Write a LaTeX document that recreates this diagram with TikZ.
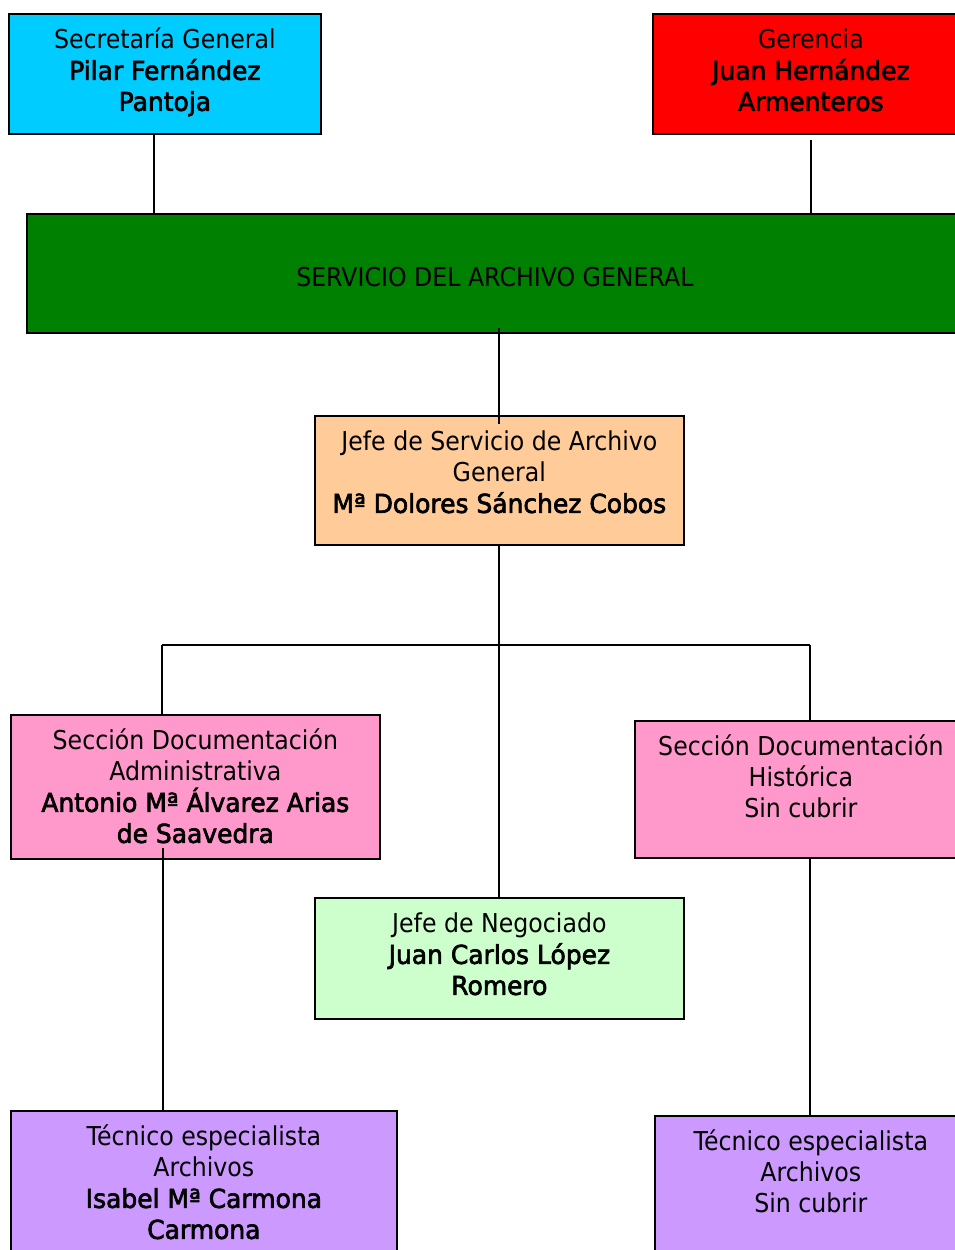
\documentclass[tikz,border=0pt]{standalone}
\usepackage{fontspec}
\setmainfont{DejaVu Sans}[UprightFeatures={FakeStretch=0.91},BoldFont={DejaVu Sans},BoldFeatures={FakeStretch=0.96,FakeBold=2.5}]
\newdimen\px \px=0.75pt
\definecolor{cyanbox}{HTML}{00CCFF}
\definecolor{redbox}{HTML}{FF0000}
\definecolor{greenbox}{HTML}{008000}
\definecolor{orangebox}{HTML}{FFCC99}
\definecolor{pinkbox}{HTML}{FF99CC}
\definecolor{lgreenbox}{HTML}{CCFFCC}
\definecolor{purplebox}{HTML}{CC99FF}
\tikzset{
  orgbox/.style={draw=black, line width=1.3pt, inner sep=0pt, anchor=north west},
  conn/.style={draw=black, line width=1.1pt}
}
\begin{document}
\begin{tikzpicture}[x=0.75pt,y=-0.75pt,font=\fontsize{19.5}{23.25}\selectfont]
\useasboundingbox (0,0) rectangle (955,1250);
\clip (0,0) rectangle (955,1250);
\node[orgbox, fill=cyanbox] (sec) at (8,13) {\parbox[c][120\px][t]{312\px}{\centering\rule{0pt}{35\px}Secretaría General\\\textbf{Pilar Fernández}\\\textbf{Pantoja}}};
\node[orgbox, fill=redbox] (ger) at (652,13) {\parbox[c][120\px][t]{316\px}{\centering\rule{0pt}{35\px}Gerencia\\\textbf{Juan Hernández}\\\textbf{Armenteros}}};
\node[orgbox, fill=greenbox] (srv) at (26,213) {\parbox[c][119\px][t]{936\px}{\centering\rule{0pt}{73\px}SERVICIO DEL ARCHIVO GENERAL}};
\node[orgbox, fill=orangebox] (jefe) at (314,415) {\parbox[c][129\px][t]{369\px}{\centering\rule{0pt}{35\px}Jefe de Servicio de Archivo\\General\\\textbf{Mª Dolores Sánchez Cobos}}};
\node[orgbox, fill=pinkbox] (sda) at (10,714) {\parbox[c][144\px][t]{369\px}{\centering\rule{0pt}{35\px}Sección Documentación\\Administrativa\\\textbf{Antonio Mª Álvarez Arias}\\\textbf{de Saavedra}}};
\node[orgbox, fill=pinkbox] (sdh) at (634,720) {\parbox[c][137\px][t]{332\px}{\centering\rule{0pt}{35\px}Sección Documentación\\Histórica\\Sin cubrir}};
\node[orgbox, fill=lgreenbox] (neg) at (314,897) {\parbox[c][121\px][t]{369\px}{\centering\rule{0pt}{35\px}Jefe de Negociado\\\textbf{Juan Carlos López}\\\textbf{Romero}}};
\node[orgbox, fill=purplebox] (tal) at (10,1110) {\parbox[c][170\px][t]{386\px}{\centering\rule{0pt}{35\px}Técnico especialista\\Archivos\\\textbf{Isabel Mª Carmona}\\\textbf{Carmona}}};
\node[orgbox, fill=purplebox] (tar) at (654,1115) {\parbox[c][170\px][t]{312\px}{\centering\rule{0pt}{35\px}Técnico especialista\\Archivos\\Sin cubrir}};
\coordinate (xs) at (154,0);
\coordinate (xc) at (499,0);
\coordinate (bl) at (162,645);
\coordinate (br) at (810,645);
\coordinate (xl) at (163,0);
\draw[conn] (sec.south -| xs) -- (srv.north -| xs);
\draw[conn] ([yshift=-3.75pt]ger.south) -- (srv.north -| ger.south);
\draw[conn] ([yshift=4pt]srv.south -| xc) -- ([yshift=-7pt]jefe.north -| xc);
\draw[conn] (jefe.south -| xc) -- (neg.north -| xc);
\draw[conn] (bl) -- (br);
\draw[conn] (bl) -- ([yshift=-1.5pt]bl |- sda.north);
\draw[conn] (br) -- (br |- sdh.north);
\draw[conn] ([yshift=9pt]sda.south -| xl) -- (tal.north -| xl);
\draw[conn] (sdh.south -| br) -- (tar.north -| br);
\end{tikzpicture}
\end{document}
